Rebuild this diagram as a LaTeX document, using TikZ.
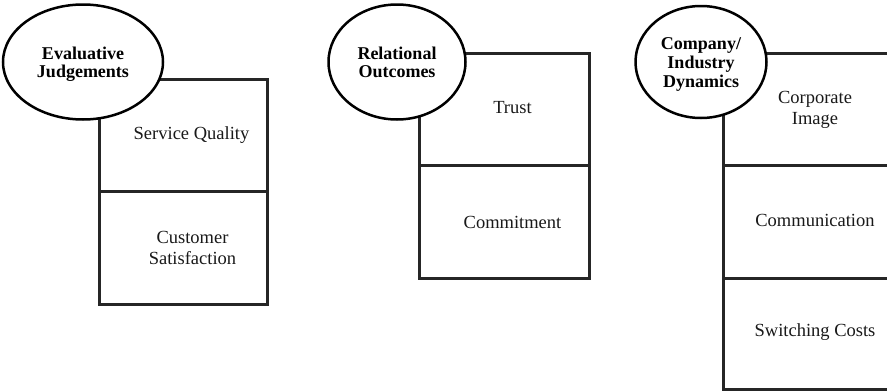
\documentclass[tikz,border=0pt]{standalone}
\usepackage{fontspec}
\setmainfont{Liberation Serif}
\usetikzlibrary{shapes.geometric}
\tikzset{
  cell/.style={draw=black!85, line width=3pt, fill=white, anchor=north west, inner sep=0pt, minimum width=#1},
  cell/.default=170pt,
  celltext/.style={font=\fontsize{18.5}{21}\selectfont, align=center, text=black!90},
  oval/.style={draw=black, line width=2.5pt, fill=white, ellipse, inner sep=0pt, align=center},
  ovaltext/.style={font=\fontsize{18}{18}\selectfont\bfseries, align=center},
}
\begin{document}
\begin{tikzpicture}[x=1pt,y=-1pt]
\useasboundingbox (0,0) rectangle (887,391);
\begin{scope}
\clip (0,0) rectangle (887,391);
% group 1
\node[cell=168pt, minimum height=112pt] (sq) at (98,78) {};
\node[cell=168pt, minimum height=113pt] (cs) at (98,190) {};
\node[celltext] (sqt) at ([xshift=8pt]sq.center) {Service Quality};
\node[celltext] (cst) at ([xshift=9pt]cs.center) {Customer\\Satisfaction};
\node[oval, minimum width=160pt, minimum height=115pt] (ej) at (83,62) {};
\node[ovaltext] (ejt) at ([yshift=-2pt]ej.center) {Evaluative\\Judgements};
% group 2
\node[cell, minimum height=112pt] (tr) at (418,52) {};
\node[cell, minimum height=113pt] (cm) at (418,164) {};
\node[celltext] (trt) at ([xshift=8pt, yshift=2pt]tr.center) {Trust};
\node[celltext] (cmt) at ([xshift=8pt]cm.center) {Commitment};
\node[oval, minimum width=137pt, minimum height=115pt] (ro) at (397,62) {};
\node[ovaltext] (rot) at (ro.center) {Relational\\Outcomes};
% group 3
\node[cell=190pt, minimum height=112pt] (ci) at (722,52) {};
\node[cell=190pt, minimum height=113pt] (co) at (722,164) {};
\node[cell=190pt, minimum height=111pt] (sc) at (722,277) {};
\node[celltext] (cit) at (815,110) {Corporate\\Image};
\node[celltext] (cot) at (815,220) {Communication};
\node[celltext] (sct) at (815,332) {Switching Costs};
\node[oval, minimum width=131pt, minimum height=112pt] (cd) at (701,62) {};
\node[ovaltext, font=\fontsize{18}{19}\selectfont\bfseries] (cdt) at ([yshift=-2pt]cd.center) {Company/\\Industry\\Dynamics};
\end{scope}
\end{tikzpicture}
\end{document}
